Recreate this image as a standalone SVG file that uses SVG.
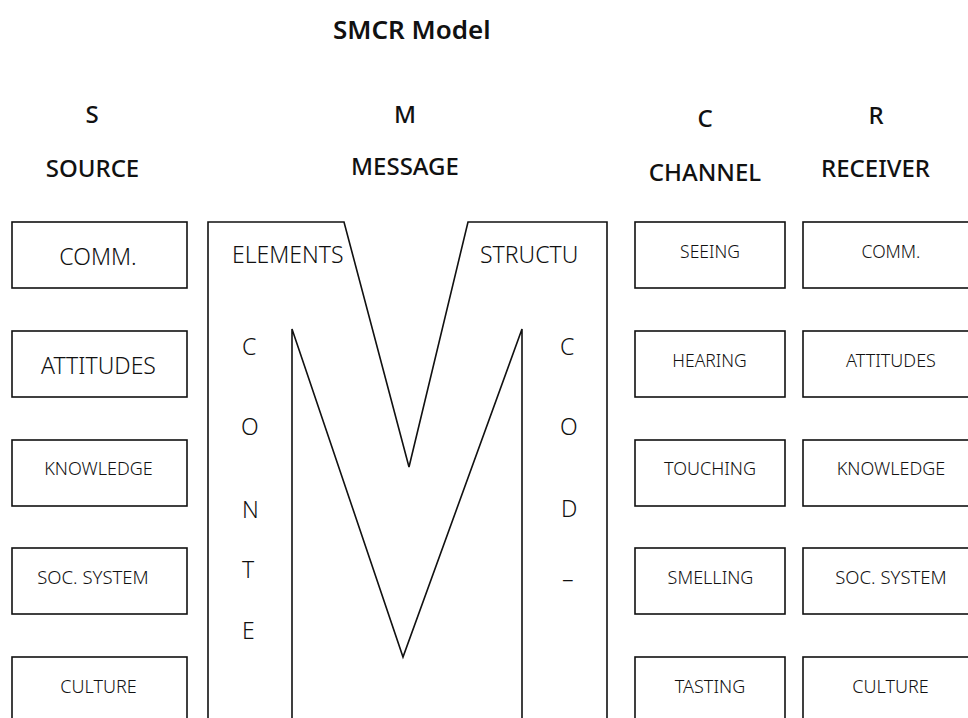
<svg xmlns="http://www.w3.org/2000/svg" width="968" height="718" viewBox="0 0 968 718">
<style>
text{font-family:"Noto Sans","Open Sans",sans-serif;fill:#111;}
.title{font-size:26px;font-weight:600;}
.head{font-size:24px;font-weight:500;text-anchor:middle;}
.big{font-size:23px;text-anchor:middle;font-weight:300;}
.sm{font-size:18px;text-anchor:middle;font-weight:300;}
.let{font-size:23px;font-weight:300;}
.box{fill:#fff;stroke:#111;stroke-width:1.6;}
.ln{fill:none;stroke:#111;stroke-width:1.6;stroke-linejoin:miter;}
</style>
<rect width="968" height="718" fill="#fff"/>
<g id="title"><text class="title" x="333" y="39">SMCR Model</text></g>
<g id="headings">
<text class="head" x="92" y="123">S</text>
<text class="head" x="92.5" y="177">SOURCE</text>
<text class="head" x="405" y="123">M</text>
<text class="head" x="405" y="175">MESSAGE</text>
<text class="head" x="705" y="127">C</text>
<text class="head" x="705" y="181">CHANNEL</text>
<text class="head" x="876" y="124">R</text>
<text class="head" x="875.5" y="177">RECEIVER</text>
</g>
<g id="source">
<g id="s-comm"><rect class="box" x="12" y="222" width="175" height="66"/><text class="big" x="98" y="265">COMM.</text></g>
<g id="s-attitudes"><rect class="box" x="12" y="331" width="175" height="66"/><text class="big" x="98.5" y="374">ATTITUDES</text></g>
<g id="s-knowledge"><rect class="box" x="12" y="440" width="175" height="66"/><text class="sm" x="98.5" y="475">KNOWLEDGE</text></g>
<g id="s-soc"><rect class="box" x="12" y="548" width="175" height="66"/><text class="sm" x="93" y="584" style="font-size:18.5px">SOC.  SYSTEM</text></g>
<g id="s-culture"><rect class="box" x="12" y="657" width="175" height="66"/><text class="sm" x="98.5" y="693">CULTURE</text></g>
</g>
<g id="message">
<path class="ln" d="M208,720 L208,222 L344,222 L409,467 L468,222 L607,222 L607,720"/>
<path class="ln" d="M292,720 L292,329 L403,657 L522,329 L522,720"/>
<text class="let" x="232" y="263">ELEMENTS</text>
<text class="let" x="480" y="263">STRUCTU</text>
<text class="let" x="242" y="355">C</text>
<text class="let" x="241" y="435">O</text>
<text class="let" x="242" y="518">N</text>
<text class="let" x="242" y="578">T</text>
<text class="let" x="242" y="639">E</text>
<text class="let" x="560" y="355">C</text>
<text class="let" x="560" y="435">O</text>
<text class="let" x="561" y="517">D</text>
<text class="let" x="563" y="578">_</text>
</g>
<g id="channel">
<g id="c-seeing"><rect class="box" x="635" y="222" width="150" height="66"/><text class="sm" x="710" y="258" style="font-size:17.5px">SEEING</text></g>
<g id="c-hearing"><rect class="box" x="635" y="331" width="150" height="66"/><text class="sm" x="709.5" y="367" style="font-size:17.5px">HEARING</text></g>
<g id="c-touching"><rect class="box" x="635" y="440" width="150" height="66"/><text class="sm" x="710" y="475">TOUCHING</text></g>
<g id="c-smelling"><rect class="box" x="635" y="548" width="150" height="66"/><text class="sm" x="710.5" y="584">SMELLING</text></g>
<g id="c-tasting"><rect class="box" x="635" y="657" width="150" height="66"/><text class="sm" x="710" y="693">TASTING</text></g>
</g>
<g id="receiver">
<g id="r-comm"><rect class="box" x="803" y="222" width="176" height="66"/><text class="sm" x="891" y="258" style="font-size:17.5px">COMM.</text></g>
<g id="r-attitudes"><rect class="box" x="803" y="331" width="176" height="66"/><text class="sm" x="891" y="367">ATTITUDES</text></g>
<g id="r-knowledge"><rect class="box" x="803" y="440" width="176" height="66"/><text class="sm" x="891" y="475">KNOWLEDGE</text></g>
<g id="r-soc"><rect class="box" x="803" y="548" width="176" height="66"/><text class="sm" x="891" y="584" style="font-size:18.5px">SOC. SYSTEM</text></g>
<g id="r-culture"><rect class="box" x="803" y="657" width="176" height="66"/><text class="sm" x="890.5" y="693">CULTURE</text></g>
</g>
<g id="connectors"></g>
</svg>
